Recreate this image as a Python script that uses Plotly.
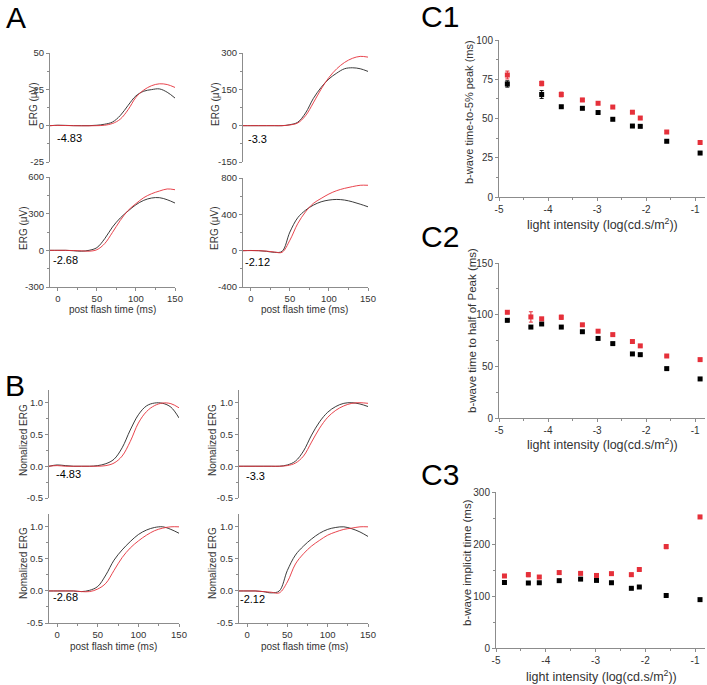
import plotly.graph_objects as go

W, H = 707, 685

# ---------------- data ----------------
time_ms = [-10, 0, 10, 20, 30, 40, 50, 60, 70, 80, 90, 100, 110, 120, 130, 140, 150]
time_ticks = [0, 50, 100, 150]

# Panel A : raw ERG (uV), black = control, red = mutant
erg_m483_black = [0, 0.3, 0.2, 0, 0, 0, 0.3, 1.0, 2.5, 7, 14, 20.5, 23.7, 24.8, 25.3, 23, 19]
erg_m483_red = [0, 0.2, 0.1, 0, -0.1, -0.1, 0, 0.3, 1.5, 4.5, 11, 19.5, 24.5, 27.5, 28.8, 28.3, 26.3]
erg_m33_black = [0, 0, 0, 0, 0, 0, 4, 14, 52, 112, 158, 193, 217, 235, 239, 235, 224]
erg_m33_red = [0, 0, 0, 0, 0, 0, 3, 11, 41, 94, 151, 199, 235, 261, 278, 286, 283]
erg_m268_black = [0, 0, 0, -3, -7, 0, 22, 95, 191, 265, 322, 373, 409, 428, 431, 414, 387]
erg_m268_red = [0, 0, 0, -2, -4, -7, 5, 55, 147, 245, 327, 382, 431, 463, 485, 502, 496]
erg_m212_black = [0, 2, 0, -7, -18, -8, 205, 362, 445, 501, 538, 557, 564, 557, 538, 512, 483]
erg_m212_red = [0, 1, 0, -5, -15, -18, 115, 297, 427, 520, 575, 624, 661, 686, 705, 720, 720]

ticks_m483 = [-25, 0, 25, 50]
ticks_m33 = [-150, 0, 150, 300]
ticks_m268 = [-300, 0, 300, 600]
ticks_m212 = [-400, 0, 400, 800]
ticks_norm = [-0.5, 0.0, 0.5, 1.0]
ticks_norm_text = ["-0.5", "0.0", "0.5", "1.0"]

# Panel B : normalized ERG
norm_m483_black = [0, 0.02, 0.01, 0, 0, 0, 0.01, 0.04, 0.11, 0.29, 0.57, 0.81, 0.95, 0.995, 0.99, 0.93, 0.76]
norm_m483_red = [0, 0.01, 0, 0, 0, 0, 0, 0.01, 0.05, 0.16, 0.39, 0.68, 0.86, 0.955, 0.995, 0.985, 0.92]
norm_m33_black = [0, 0, 0, 0, 0, 0, 0.02, 0.08, 0.24, 0.49, 0.70, 0.85, 0.94, 0.99, 1.0, 0.98, 0.94]
norm_m33_red = [0, 0, 0, 0, 0, 0, 0.01, 0.05, 0.16, 0.38, 0.60, 0.77, 0.88, 0.95, 0.99, 1.0, 0.99]
norm_m268_black = [0, 0, 0, 0, -0.01, 0.01, 0.07, 0.25, 0.48, 0.64, 0.77, 0.88, 0.95, 0.99, 1.0, 0.96, 0.9]
norm_m268_red = [0, 0, 0, 0, -0.01, -0.01, 0.03, 0.12, 0.32, 0.52, 0.67, 0.78, 0.87, 0.94, 0.98, 1.0, 1.0]
norm_m212_black = [0, 0, 0, -0.01, -0.03, 0, 0.32, 0.56, 0.70, 0.81, 0.90, 0.96, 0.99, 1.0, 0.97, 0.92, 0.85]
norm_m212_red = [0, 0, 0, -0.01, -0.02, -0.03, 0.14, 0.42, 0.58, 0.70, 0.79, 0.87, 0.92, 0.96, 0.98, 1.0, 1.0]

# Panel C : light intensities
intensity_c1 = [-4.83, -4.13, -3.73, -3.3, -2.98, -2.68, -2.28, -2.12, -1.58, -0.9]
intensity_c23 = [-4.83, -4.35, -4.13, -3.73, -3.3, -2.98, -2.68, -2.28, -2.12, -1.58, -0.9]
intensity_ticks = [-5, -4, -3, -2, -1]

c1_black = [72, 65.3, 57.5, 56.5, 53.8, 49.5, 45.2, 45, 35.5, 28]
c1_black_err = [2, 2.5, 0.6, 0.8, 0.6, 0.6, 0.6, 0.6, 0.6, 0.6]
c1_red = [77.7, 72.3, 65.3, 61.8, 59.7, 57.3, 54, 50.3, 41.4, 34.7]
c1_red_err = [2.5, 1.5, 1.5, 1.0, 0.8, 0.6, 0.8, 0.8, 0.8, 0.6]
c1_ticks = [0, 25, 50, 75, 100]

c2_black = [94.5, 88, 91, 88, 83.5, 77, 72, 62, 61.3, 47.8, 37.8]
c2_black_err = [0.8, 0.8, 0.8, 0.8, 0.8, 0.8, 0.8, 0.8, 0.8, 0.8, 0.8]
c2_red = [102.3, 97.8, 96, 97.5, 90.2, 84, 80.7, 74, 69.8, 60, 56.5]
c2_red_err = [1, 5, 1, 2, 1, 0.8, 0.8, 1, 1, 0.8, 0.8]
c2_ticks = [0, 50, 100, 150]

c3_black = [126, 125, 125.5, 129.5, 132.5, 130, 125.5, 114.8, 117.3, 101, 93]
c3_black_err = [1, 1, 1, 1, 1.5, 1, 1, 1, 1, 1, 1]
c3_red = [138.5, 141, 136.5, 145, 143.5, 139.5, 143, 141, 151, 195, 252]
c3_red_err = [2, 4, 2, 3, 2, 2, 2, 3, 2, 4, 3]
c3_ticks = [0, 100, 200, 300]

BLACK = "#262626"
RED = "#e5303a"
AXC = "#8c8c8c"
TXT = "#333333"
FONT = "Liberation Sans, Arial, sans-serif"


def dom_x(a, b):
    return [a / W, b / W]


def dom_y(top, bottom):
    return [1 - bottom / H, 1 - top / H]


fig = go.Figure()
layout = dict(width=W, height=H, margin=dict(l=0, r=0, t=0, b=0, pad=0, autoexpand=False),
              template="none",
              paper_bgcolor="white", plot_bgcolor="white", showlegend=False,
              font=dict(family=FONT, color=TXT))
annotations = []


def axis(domain, rng, ticks, ticktext=None, show=True, minor_dtick=None, minor_tick0=0,
         fontsize=9.5, anchor=None):
    d = dict(domain=domain, range=rng, showgrid=False, zeroline=False, automargin=False,
             showline=show, linecolor=AXC, linewidth=1, mirror=False,
             ticks="outside" if show else "", ticklen=3, tickcolor=AXC, tickwidth=1,
             showticklabels=show, tickfont=dict(size=fontsize, color=TXT, family=FONT),
             tickmode="array", tickvals=ticks,
             ticktext=ticktext if ticktext else [str(v) for v in ticks],
             fixedrange=True)
    if anchor:
        d["anchor"] = anchor
    if show and minor_dtick is not None:
        d["minor"] = dict(ticks="outside", ticklen=2, tickcolor=AXC, dtick=minor_dtick,
                          tick0=minor_tick0, showgrid=False, tickmode="linear")
    return d


def text(x, y, s, size=11, angle=0, color="black"):
    annotations.append(dict(x=x / W, y=1 - y / H, xref="paper", yref="paper",
                            text=s, showarrow=False, textangle=angle,
                            font=dict(size=size, color=color, family=FONT),
                            xanchor="center", yanchor="middle"))


erg_panels = [
    (1, (50, 175), (53, 162), [-25, 50], ticks_m483, None, erg_m483_black, erg_m483_red, "-4.83", (69, 138), False),
    (2, (243, 368), (53, 162), [-150, 300], ticks_m33, None, erg_m33_black, erg_m33_red, "-3.3", (257, 139), False),
    (3, (50, 175), (177, 287), [-300, 600], ticks_m268, None, erg_m268_black, erg_m268_red, "-2.68", (65, 260), True),
    (4, (243, 368), (178, 287), [-400, 800], ticks_m212, None, erg_m212_black, erg_m212_red, "-2.12", (257, 262), True),
    (5, (49, 179), (390, 498), [-0.5, 1.2], ticks_norm, ticks_norm_text, norm_m483_black, norm_m483_red, "-4.83", (68, 474), False),
    (6, (239, 368), (390, 498), [-0.5, 1.2], ticks_norm, ticks_norm_text, norm_m33_black, norm_m33_red, "-3.3", (255, 476), False),
    (7, (49, 179), (514, 623), [-0.5, 1.2], ticks_norm, ticks_norm_text, norm_m268_black, norm_m268_red, "-2.68", (65, 597), True),
    (8, (239, 368), (514, 623), [-0.5, 1.2], ticks_norm, ticks_norm_text, norm_m212_black, norm_m212_red, "-2.12", (253, 599), True),
]

for (i, xr, yr, yrange, yt, ytt, blk, red, lab, lpos, showx) in erg_panels:
    xa = "x" if i == 1 else f"x{i}"
    ya = "y" if i == 1 else f"y{i}"
    fig.add_trace(go.Scatter(x=time_ms, y=blk, mode="lines", line=dict(color=BLACK, width=0.9, shape="spline"),
                             xaxis=xa, yaxis=ya, hoverinfo="skip"))
    fig.add_trace(go.Scatter(x=time_ms, y=red, mode="lines", line=dict(color=RED, width=0.9, shape="spline"),
                             xaxis=xa, yaxis=ya, hoverinfo="skip"))
    layout["xaxis" if i == 1 else f"xaxis{i}"] = axis(dom_x(*xr), [-10, 150], time_ticks, show=showx,
                                                      minor_dtick=25, anchor=ya)
    layout["yaxis" if i == 1 else f"yaxis{i}"] = axis(dom_y(*yr), yrange, yt, ticktext=ytt, show=True,
                                                      minor_dtick=(yt[1] - yt[0]) / 2, anchor=xa)
    text(lpos[0], lpos[1], lab, size=11)

c_panels = [
    (9, (499, 705), (40, 197), [0, 100], c1_ticks, intensity_c1, c1_black, c1_black_err, c1_red, c1_red_err),
    (10, (499, 705), (263, 418), [0, 150], c2_ticks, intensity_c23, c2_black, c2_black_err, c2_red, c2_red_err),
    (11, (496, 705), (492, 648), [0, 300], c3_ticks, intensity_c23, c3_black, c3_black_err, c3_red, c3_red_err),
]
for (i, xr, yr, yrange, yt, xs, blk, blk_e, red, red_e) in c_panels:
    xa, ya = f"x{i}", f"y{i}"
    fig.add_trace(go.Scatter(x=xs, y=blk, mode="markers",
                             marker=dict(symbol="square", size=5, color="black", line=dict(width=0)),
                             error_y=dict(type="data", array=blk_e, color="black", thickness=1, width=2),
                             xaxis=xa, yaxis=ya, hoverinfo="skip"))
    fig.add_trace(go.Scatter(x=xs, y=red, mode="markers",
                             marker=dict(symbol="square", size=5, color=RED, line=dict(width=0)),
                             error_y=dict(type="data", array=red_e, color=RED, thickness=1, width=2),
                             xaxis=xa, yaxis=ya, hoverinfo="skip"))
    layout[f"xaxis{i}"] = axis(dom_x(*xr), [-5, -0.8], intensity_ticks, show=True, minor_dtick=0.5,
                               minor_tick0=-5, anchor=ya, fontsize=10)
    layout[f"yaxis{i}"] = axis(dom_y(*yr), yrange, yt, show=True, minor_dtick=(yt[1] - yt[0]) / 2,
                               anchor=xa, fontsize=10)

# panel labels
text(16, 18, "A", size=30)
text(15, 385, "B", size=30)
text(440, 16, "C1", size=30)
text(440, 236, "C2", size=30)
text(440, 474, "C3", size=30)

# axis titles A / B
for (x, y) in [(33, 104), (215, 104), (24, 228), (215, 228)]:
    text(x, y, "ERG (\u03bcV)", size=10, angle=-90, color=TXT)
for (x, y) in [(23, 440), (212, 440), (23, 563), (212, 563)]:
    text(x, y, "Nomalized ERG", size=10, angle=-90, color=TXT)
text(112, 309, "post flash time (ms)", size=10, color=TXT)
text(304, 309, "post flash time (ms)", size=10, color=TXT)
text(114, 646, "post flash time (ms)", size=10, color=TXT)
text(304, 646, "post flash time (ms)", size=10, color=TXT)

# axis titles C
xt = "light intensity (log(cd.s/m<sup>2</sup>))"
text(602, 224, xt, size=12.5, color=TXT)
text(602, 444, xt, size=12.5, color=TXT)
text(601, 676, xt, size=12.5, color=TXT)
text(469, 112, "b-wave time-to-5% peak (ms)", size=11, angle=-90, color=TXT)
text(472, 330, "b-wave time to half of Peak (ms)", size=11.5, angle=-90, color=TXT)
text(467, 563, "b-wave implicit time (ms)", size=11.5, angle=-90, color=TXT)

layout["annotations"] = annotations
fig.update_layout(**layout)
fig.write_html("out.html", config={"displayModeBar": False},
               post_script="document.body.style.margin='0px';")
